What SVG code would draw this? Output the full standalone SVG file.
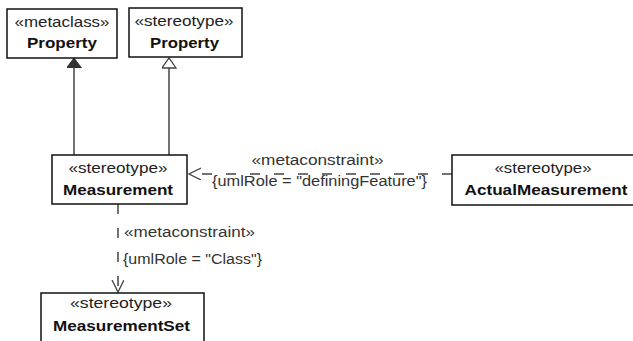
<svg xmlns="http://www.w3.org/2000/svg" width="633" height="341" viewBox="0 0 633 341">
<style>
.box{fill:#fff;stroke:#111;stroke-width:1.5}
.st{font-family:"Liberation Sans",Arial,sans-serif;font-size:15px;fill:#222;text-anchor:middle}
.nm{font-family:"Liberation Sans",Arial,sans-serif;font-size:15px;font-weight:bold;fill:#111;text-anchor:middle}
.lb{font-family:"Liberation Sans",Arial,sans-serif;font-size:14px;fill:#333}
.ln{fill:none;stroke:#444;stroke-width:1.5}
.dash{stroke-dasharray:10,14}
</style>
<defs>
<marker id="filled" markerUnits="userSpaceOnUse" markerWidth="16" markerHeight="16" refX="10" refY="7.5" orient="auto">
<path d="M0,0 L10,7.5 L0,15 z" fill="#333" stroke="#333" stroke-width="1"/>
</marker>
<marker id="hollow" markerUnits="userSpaceOnUse" markerWidth="16" markerHeight="16" refX="10.5" refY="7.5" orient="auto">
<path d="M0.5,0.5 L10.5,7.5 L0.5,14.5 z" fill="#fff" stroke="#444" stroke-width="1.3"/>
</marker>
<marker id="open" markerUnits="userSpaceOnUse" markerWidth="14" markerHeight="14" refX="12" refY="6" orient="auto">
<path d="M0,0 L12,6 L0,12" fill="none" stroke="#444" stroke-width="1.3"/>
</marker>
</defs>
<g id="connectors">
<line class="ln" x1="74" y1="155" x2="74" y2="58" marker-end="url(#filled)"/>
<line class="ln" x1="169" y1="155" x2="169" y2="58" marker-end="url(#hollow)"/>
<line class="ln dash" x1="452" y1="174" x2="189" y2="174" marker-end="url(#open)"/>
<text class="lb" x="317.5" y="165" text-anchor="middle" textLength="132" lengthAdjust="spacingAndGlyphs">«metaconstraint»</text>
<text class="lb" x="212" y="186" textLength="215" lengthAdjust="spacingAndGlyphs">{umlRole = "definingFeature"}</text>
<line class="ln dash" x1="118" y1="204" x2="118" y2="292" marker-end="url(#open)"/>
<text class="lb" x="124" y="237" textLength="131" lengthAdjust="spacingAndGlyphs">«metaconstraint»</text>
<text class="lb" x="123" y="264" textLength="139" lengthAdjust="spacingAndGlyphs">{umlRole = "Class"}</text>
</g>
<g id="metaclassProperty">
<rect class="box" x="7" y="9" width="110" height="49"/>
<text class="st" x="62" y="27" textLength="95" lengthAdjust="spacingAndGlyphs">«metaclass»</text>
<text class="nm" x="62" y="48" textLength="70" lengthAdjust="spacingAndGlyphs">Property</text>
</g>
<g id="stereotypeProperty">
<rect class="box" x="129" y="8" width="113" height="49"/>
<text class="st" x="184" y="26" textLength="99" lengthAdjust="spacingAndGlyphs">«stereotype»</text>
<text class="nm" x="184.5" y="48" textLength="69" lengthAdjust="spacingAndGlyphs">Property</text>
</g>
<g id="Measurement">
<rect class="box" x="52" y="155" width="135" height="49"/>
<text class="st" x="118" y="173" textLength="99" lengthAdjust="spacingAndGlyphs">«stereotype»</text>
<text class="nm" x="118" y="195" textLength="110" lengthAdjust="spacingAndGlyphs">Measurement</text>
</g>
<g id="ActualMeasurement">
<rect class="box" x="452" y="155" width="192" height="50"/>
<text class="st" x="543" y="173" textLength="97" lengthAdjust="spacingAndGlyphs">«stereotype»</text>
<text class="nm" x="546" y="195" textLength="163" lengthAdjust="spacingAndGlyphs">ActualMeasurement</text>
</g>
<g id="MeasurementSet">
<rect class="box" x="41" y="293" width="163" height="60"/>
<text class="st" x="121" y="308" textLength="102" lengthAdjust="spacingAndGlyphs">«stereotype»</text>
<text class="nm" x="121.5" y="331" textLength="137" lengthAdjust="spacingAndGlyphs">MeasurementSet</text>
</g>
</svg>
